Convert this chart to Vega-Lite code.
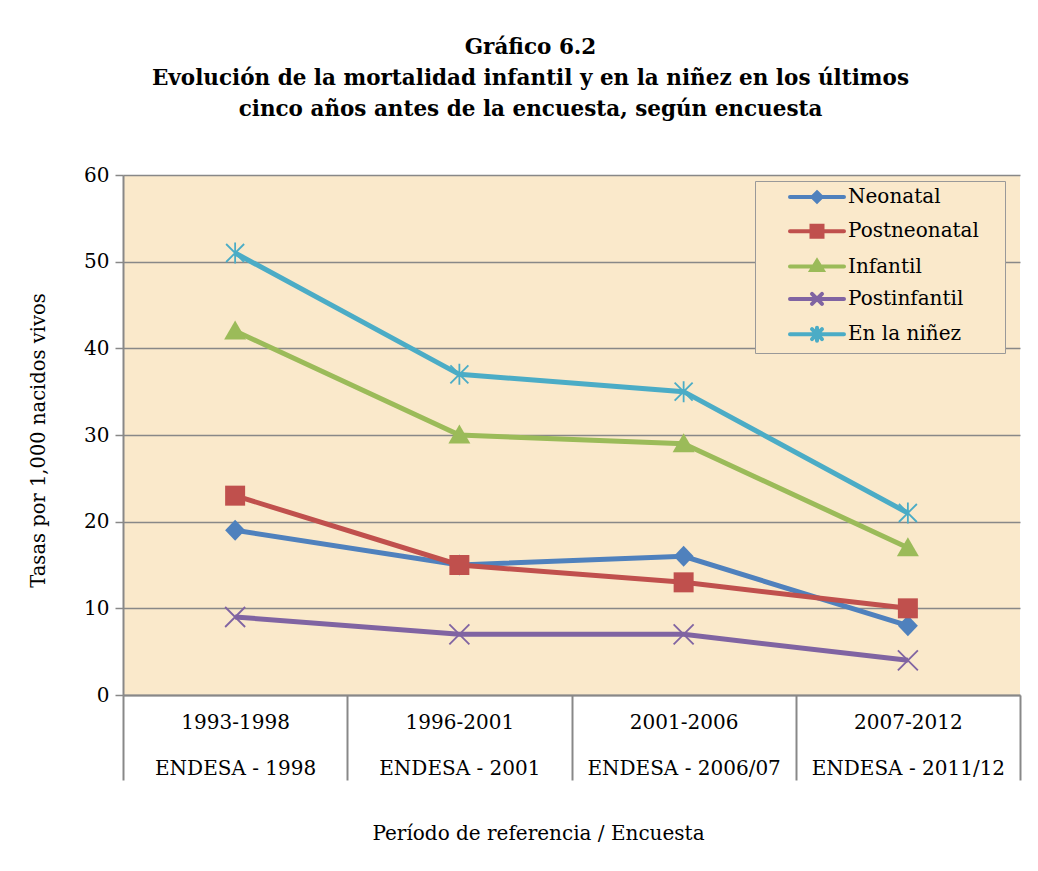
{
  "$schema": "https://vega.github.io/schema/vega-lite/v6.json",
  "autosize": {"type": "none"},
  "width": 897,
  "height": 520,
  "padding": {"left": 123, "top": 175, "right": 18, "bottom": 176},
  "background": "white",
  "title": {
    "text": ["Gráfico 6.2", "Evolución de la mortalidad infantil y en la niñez en los últimos", "cinco años antes de la encuesta, según encuesta"],
    "font": "DejaVu Serif",
    "fontSize": 21.5,
    "fontWeight": "bold",
    "lineHeight": 31,
    "color": "black",
    "anchor": "middle",
    "frame": "group",
    "dx": -41,
    "offset": 45
  },
  "config": {
    "view": {"fill": "#FAE9CB", "stroke": null},
    "font": "DejaVu Serif"
  },
  "data": {
    "values": [
      {"periodo": "1993-1998|ENDESA - 1998", "serie": "Neonatal", "tasa": 19},
      {"periodo": "1996-2001|ENDESA - 2001", "serie": "Neonatal", "tasa": 15},
      {"periodo": "2001-2006|ENDESA - 2006/07", "serie": "Neonatal", "tasa": 16},
      {"periodo": "2007-2012|ENDESA - 2011/12", "serie": "Neonatal", "tasa": 8},
      {"periodo": "1993-1998|ENDESA - 1998", "serie": "Postneonatal", "tasa": 23},
      {"periodo": "1996-2001|ENDESA - 2001", "serie": "Postneonatal", "tasa": 15},
      {"periodo": "2001-2006|ENDESA - 2006/07", "serie": "Postneonatal", "tasa": 13},
      {"periodo": "2007-2012|ENDESA - 2011/12", "serie": "Postneonatal", "tasa": 10},
      {"periodo": "1993-1998|ENDESA - 1998", "serie": "Infantil", "tasa": 42},
      {"periodo": "1996-2001|ENDESA - 2001", "serie": "Infantil", "tasa": 30},
      {"periodo": "2001-2006|ENDESA - 2006/07", "serie": "Infantil", "tasa": 29},
      {"periodo": "2007-2012|ENDESA - 2011/12", "serie": "Infantil", "tasa": 17},
      {"periodo": "1993-1998|ENDESA - 1998", "serie": "Postinfantil", "tasa": 9},
      {"periodo": "1996-2001|ENDESA - 2001", "serie": "Postinfantil", "tasa": 7},
      {"periodo": "2001-2006|ENDESA - 2006/07", "serie": "Postinfantil", "tasa": 7},
      {"periodo": "2007-2012|ENDESA - 2011/12", "serie": "Postinfantil", "tasa": 4},
      {"periodo": "1993-1998|ENDESA - 1998", "serie": "En la niñez", "tasa": 51},
      {"periodo": "1996-2001|ENDESA - 2001", "serie": "En la niñez", "tasa": 37},
      {"periodo": "2001-2006|ENDESA - 2006/07", "serie": "En la niñez", "tasa": 35},
      {"periodo": "2007-2012|ENDESA - 2011/12", "serie": "En la niñez", "tasa": 21}
    ]
  },
  "encoding": {
    "x": {
      "field": "periodo",
      "type": "nominal",
      "sort": null,
      "scale": {"paddingInner": 0, "paddingOuter": 0},
      "axis": {
        "labelExpr": "split(datum.label, '|')",
        "labelAngle": 0,
        "labelLimit": 400,
        "labelFont": "DejaVu Serif",
        "labelFontSize": 20,
        "labelColor": "black",
        "labelLineHeight": 46,
        "labelBaseline": "top",
        "labelPadding": -68,
        "tickBand": "extent",
        "tickSize": 85,
        "tickColor": "#888888",
        "tickWidth": 2,
        "domainColor": "#888888",
        "domainWidth": 2,
        "grid": false,
        "title": "Período de referencia / Encuesta",
        "titleFont": "DejaVu Serif",
        "titleFontSize": 20,
        "titleFontWeight": "normal",
        "titleColor": "black",
        "titleX": 415,
        "titleY": 138,
        "titleBaseline": "middle",
        "titleAlign": "center"
      }
    },
    "y": {
      "field": "tasa",
      "type": "quantitative",
      "scale": {"domain": [0, 60], "nice": false},
      "axis": {
        "values": [0, 10, 20, 30, 40, 50, 60],
        "grid": true,
        "gridColor": "#888888",
        "gridWidth": 1.5,
        "tickColor": "#888888",
        "tickSize": 8,
        "tickWidth": 1.5,
        "domainColor": "#888888",
        "domainWidth": 2,
        "labelFont": "DejaVu Serif",
        "labelFontSize": 20,
        "labelColor": "black",
        "labelPadding": 6,
        "title": "Tasas por 1,000 nacidos vivos",
        "titleFont": "DejaVu Serif",
        "titleFontSize": 19.5,
        "titleFontWeight": "normal",
        "titleColor": "black",
        "titleX": -85,
        "titleY": 265,
        "titleBaseline": "middle",
        "titleAlign": "center"
      }
    },
    "color": {
      "field": "serie",
      "type": "nominal",
      "scale": {
        "domain": ["Neonatal", "Postneonatal", "Infantil", "Postinfantil", "En la niñez"],
        "range": ["#4F81BD", "#C0504D", "#9BBB59", "#8064A2", "#4BACC6"]
      }
    }
  },
  "layer": [
    {
      "mark": {"type": "line", "strokeWidth": 5},
      "encoding": {
        "color": {
          "field": "serie",
          "type": "nominal",
          "legend": {
            "title": " ",
            "titleOrient": "right",
            "titleFontSize": 1,
            "titlePadding": 22,
            "orient": "none",
            "legendX": 632,
            "legendY": 6,
            "fillColor": "#FAE9CB",
            "strokeColor": "#999999",
            "padding": 4,
            "rowPadding": 7.3,
            "symbolSize": 400,
            "symbolStrokeWidth": 4,
            "labelFont": "DejaVu Serif",
            "labelFontSize": 20,
            "labelColor": "black",
            "labelOffset": 65,
            "encode": {
              "symbols": {
                "update": {
                  "shape": {"signal": "datum.value === 'Neonatal' ? 'M1.9,0L7.3,0M4.6,-0.45L5.05,0L4.6,0.45L4.15,0Z' : datum.value === 'Postneonatal' ? 'M1.9,0L7.3,0M4.05,-0.55L5.15,-0.55L5.15,0.55L4.05,0.55Z' : datum.value === 'Infantil' ? 'M1.9,0L7.3,0M4.6,-0.55L5.15,0.35L4.05,0.35Z' : datum.value === 'Postinfantil' ? 'M1.9,0L7.3,0M4.1,-0.5L5.1,0.5M4.1,0.5L5.1,-0.5' : 'M1.9,0L7.3,0M4.1,-0.5L5.1,0.5M4.1,0.5L5.1,-0.5M4.6,-0.65L4.6,0.65'"},
                  "fill": {"signal": "(datum.value === 'Postinfantil' || datum.value === 'En la niñez') ? 'transparent' : scale('color', datum.value)"},
                  "stroke": {"signal": "scale('color', datum.value)"},
                  "strokeWidth": {"value": 4},
                  "strokeCap": {"value": "round"},
                  "opacity": {"value": 1}
                }
              }
            }
          }
        }
      }
    },
    {
      "transform": [{"filter": "datum.serie === 'Neonatal'"}],
      "mark": {"type": "point", "filled": true, "size": 400, "opacity": 1, "shape": "M0,-1.05L1,0L0,1.05L-1,0Z"}
    },
    {
      "transform": [{"filter": "datum.serie === 'Postneonatal'"}],
      "mark": {"type": "point", "filled": true, "size": 400, "opacity": 1, "shape": "M-1,-1L1,-1L1,1L-1,1Z"}
    },
    {
      "transform": [{"filter": "datum.serie === 'Infantil'"}],
      "mark": {"type": "point", "filled": true, "size": 400, "opacity": 1, "shape": "M0,-1.05L1.1,0.85L-1.1,0.85Z"}
    },
    {
      "transform": [{"filter": "datum.serie === 'Postinfantil'"}],
      "mark": {"type": "point", "filled": false, "size": 400, "opacity": 1, "strokeWidth": 1.8, "shape": "M-1,-1L1,1M-1,1L1,-1"}
    },
    {
      "transform": [{"filter": "datum.serie === 'En la niñez'"}],
      "mark": {"type": "point", "filled": false, "size": 400, "opacity": 1, "strokeWidth": 1.8, "shape": "M-0.9,-0.9L0.9,0.9M-0.9,0.9L0.9,-0.9M0,-1.05L0,1.05"}
    }
  ]
}
